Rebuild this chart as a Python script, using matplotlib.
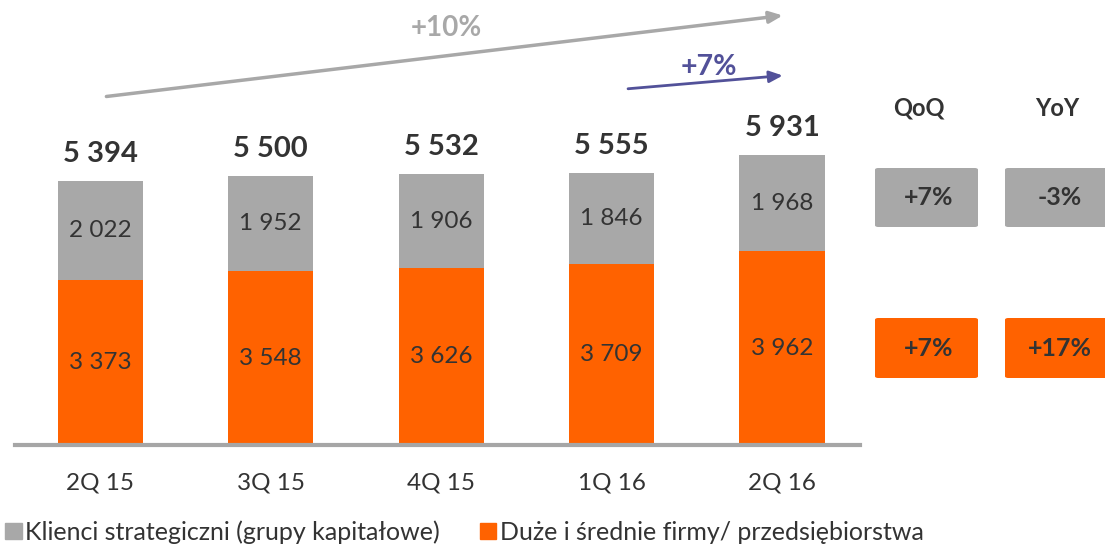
import matplotlib.pyplot as plt
import matplotlib.patches as mpatches
import numpy as np

plt.rcParams['font.family'] = ['Lato', 'DejaVu Sans']

quarters = ['2Q 15', '3Q 15', '4Q 15', '1Q 16', '2Q 16']
strategic = [2022, 1952, 1906, 1846, 1968]
large_mid = [3373, 3548, 3626, 3709, 3962]
totals = [5394, 5500, 5532, 5555, 5931]
qoq = ['+7%', '+7%']
yoy = ['-3%', '+17%']

ORANGE = '#FF6200'
GRAY = '#A8A8A8'
PURPLE = '#525199'
TXT = '#333333'

W, H = 1105, 547
fig = plt.figure(figsize=(W / 100, H / 100), dpi=100)
ax = fig.add_axes([15 / W, (H - 445) / H, (860 - 15) / W, 445 / H])

ind = np.arange(len(quarters))
width = 0.5
ax.bar(ind, large_mid, width, color=ORANGE, zorder=2)
ax.bar(ind, strategic, width, bottom=large_mid, color=GRAY, zorder=2)

ax.set_xlim(-0.5, 4.457)
ax.set_ylim(0, 9100)
for s in ['top', 'right', 'left']:
    ax.spines[s].set_visible(False)
ax.spines['bottom'].set_color('#A6A6A6')
ax.spines['bottom'].set_linewidth(3)
ax.set_yticks([])
ax.set_xticks(ind)
ax.set_xticklabels(quarters, fontsize=17.5, color=TXT)
ax.tick_params(axis='x', length=0, pad=20)

def fmt(v):
    return f'{v:,}'.replace(',', ' ')

for i in ind:
    ax.text(i, large_mid[i] / 2, fmt(large_mid[i]),
            ha='center', va='center', fontsize=17.5, color=TXT)
    ax.text(i, large_mid[i] + strategic[i] / 2, fmt(strategic[i]),
            ha='center', va='center', fontsize=17.5, color=TXT)
    ax.text(i, totals[i] + 560, fmt(totals[i]),
            ha='center', va='center', fontsize=21, fontweight='bold', color=TXT)

# growth arrows
ax.annotate('', xy=(4.02, 8790), xytext=(0.02, 7120),
            arrowprops=dict(arrowstyle='-|>,head_length=0.8,head_width=0.35',
                            color=GRAY, lw=2.5), annotation_clip=False)
ax.text(2.03, 8520, '+10%', ha='center', va='center', fontsize=20,
        fontweight='bold', color=GRAY)
ax.annotate('', xy=(4.02, 7560), xytext=(3.08, 7280),
            arrowprops=dict(arrowstyle='-|>,head_length=0.8,head_width=0.35',
                            color=PURPLE, lw=2), annotation_clip=False)
ax.text(3.57, 7730, '+7%', ha='center', va='center', fontsize=20.5,
        fontweight='bold', color=PURPLE)

# QoQ / YoY boxes
def fx(px):
    return px / W

def fy(py):
    return 1 - py / H

fig.text(fx(919), fy(108), 'QoQ', ha='center', va='center', fontsize=17,
         fontweight='bold', color=TXT)
fig.text(fx(1057), fy(108), 'YoY', ha='center', va='center', fontsize=17,
         fontweight='bold', color=TXT)
for row, (color, top, bot) in enumerate([(GRAY, 168, 227), (ORANGE, 318, 378)]):
    for col, (x0, x1, lab) in enumerate([(875, 978, qoq[row]), (1005, 1108, yoy[row])]):
        box = mpatches.FancyBboxPatch((fx(x0), fy(bot)), fx(x1 - x0), (bot - top) / H,
                                      boxstyle='round,pad=0,rounding_size=0.003',
                                      transform=fig.transFigure, color=color,
                                      linewidth=0)
        fig.add_artist(box)
        fig.text(fx(929 if col == 0 else 1060), fy((top + bot) / 2), lab,
                 ha='center', va='center', fontsize=18, fontweight='bold', color=TXT)

# legend
handles = [mpatches.Patch(color=GRAY, label='Klienci strategiczni (grupy kapitałowe)'),
           mpatches.Patch(color=ORANGE, label='Duże i średnie firmy/ przedsiębiorstwa')]
fig.legend(handles=handles, loc='lower left', bbox_to_anchor=(-0.011, -0.026), ncol=2,
           frameon=False, fontsize=18, handlelength=0.65, handleheight=0.65,
           handletextpad=0.15, columnspacing=1.6, labelcolor=TXT, borderaxespad=0.3)

fig.savefig('out.png', dpi=100)
